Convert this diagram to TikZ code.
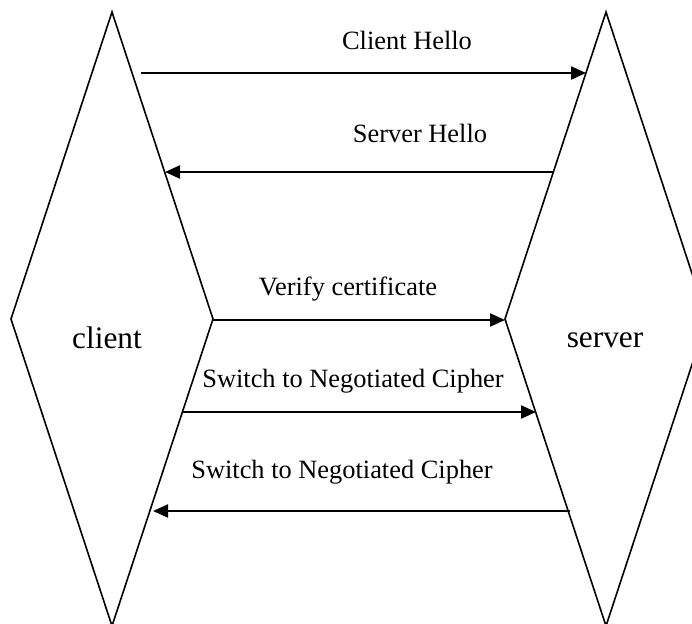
\documentclass[tikz,border=0pt]{standalone}
\usepackage{fontspec}
\setmainfont{Liberation Serif}
\usetikzlibrary{arrows.meta}
\tikzset{
  shapeline/.style={line width=1.6pt, line join=miter},
  msg/.style={line width=2.2pt, -{Triangle[length=15pt,width=13pt]}},
  lbl/.style={anchor=base, inner sep=0pt, font=\fontsize{26.4}{30}\selectfont},
  party/.style={anchor=base, inner sep=0pt, font=\fontsize{31.3}{36}\selectfont}
}
\begin{document}
\begin{tikzpicture}[x=1pt,y=-1pt]
\useasboundingbox (0,0) rectangle (692,623);
\clip (0,0) rectangle (692,623);
% left diamond
\coordinate (LT) at (112,12);
\coordinate (LR) at (213,319);
\coordinate (LB) at (112,626);
\coordinate (LL) at (11,319);
% right diamond
\coordinate (RT) at (606,12);
\coordinate (RR) at (707,319);
\coordinate (RB) at (606,626);
\coordinate (RL) at (505,319);
\draw[shapeline] (LT) -- (LR) -- (LB) -- (LL) -- cycle;
\draw[shapeline] (RT) -- (RR) -- (RB) -- (RL) -- cycle;
\node[party] (client) at (107,348) {client};
\node[party] (server) at (605,347) {server};
% message endpoints
\coordinate (a1) at (141,73);  \coordinate (b1) at (586,73);
\coordinate (a2) at (553,172); \coordinate (b2) at (165,172);
\coordinate (a3) at (212,320); \coordinate (b3) at (505,320);
\coordinate (a4) at (182,412); \coordinate (b4) at (536,412);
\coordinate (a5) at (570,511); \coordinate (b5) at (153,511);
\draw[msg] (a1) -- (b1);
\draw[msg] (a2) -- (b2);
\draw[msg] (a3) -- (b3);
\draw[msg] (a4) -- (b4);
\draw[msg] (a5) -- (b5);
\node[lbl] (m1) at (407,50) {Client Hello};
\node[lbl] (m2) at (420,142) {Server Hello};
\node[lbl] (m3) at (348,295) {Verify certificate};
\node[lbl] (m4) at (353,387) {Switch to Negotiated Cipher};
\node[lbl] (m5) at (342,478) {Switch to Negotiated Cipher};
\end{tikzpicture}
\end{document}
